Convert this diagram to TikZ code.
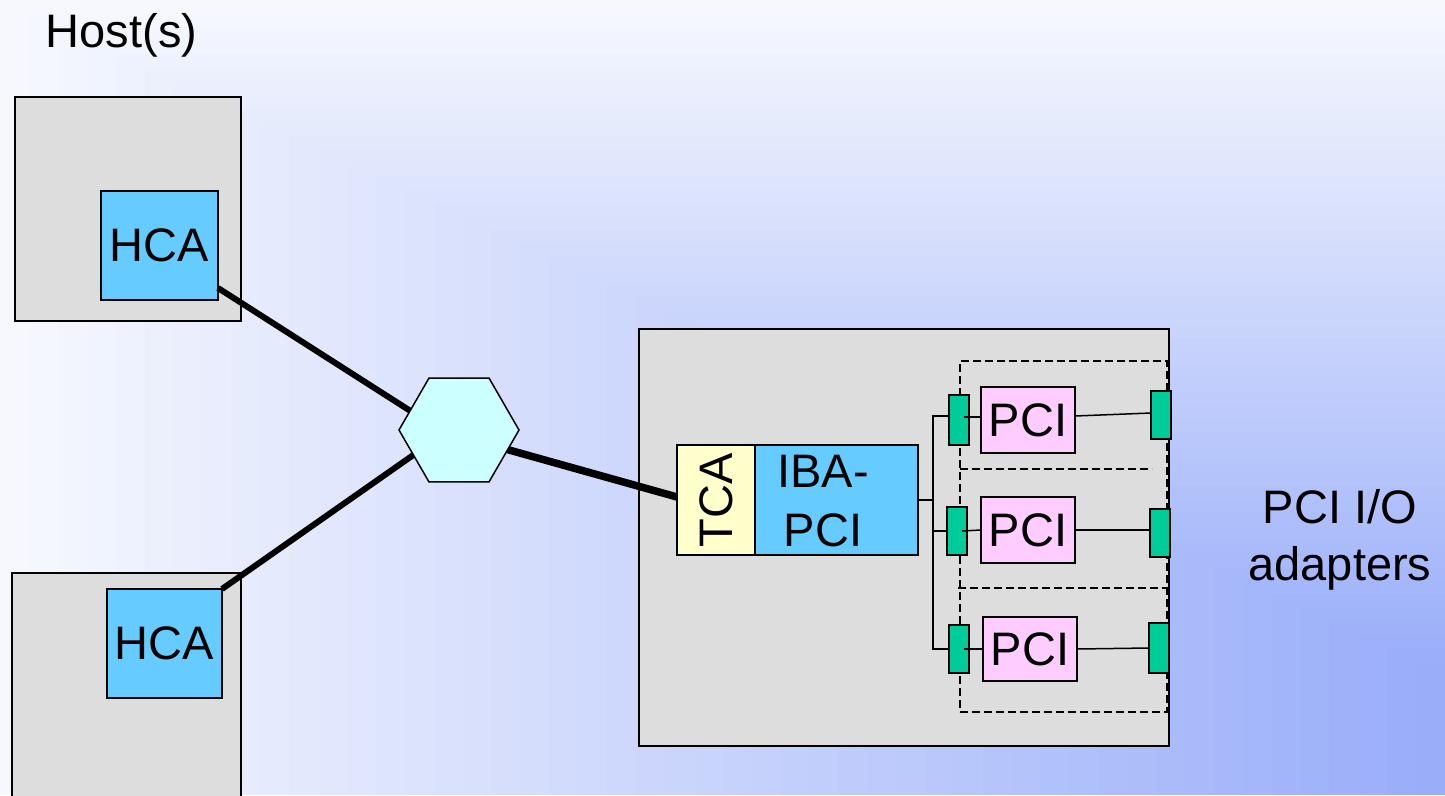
\documentclass[tikz,border=0pt]{standalone}
\usepackage{fontspec}
\setmainfont{Liberation Sans}
\usetikzlibrary{shapes.geometric,calc}
\definecolor{bgLight}{HTML}{F6F8FE}
\definecolor{bgDark}{HTML}{97ACF9}
\definecolor{hostgray}{HTML}{DDDDDD}
\definecolor{hcablue}{HTML}{66CCFF}
\definecolor{hexcyan}{HTML}{CCFFFF}
\definecolor{tcayellow}{HTML}{FFFFCC}
\definecolor{pcipink}{HTML}{FFCCFF}
\definecolor{portgreen}{HTML}{00CC99}
\begin{document}
\begin{tikzpicture}[x=1pt,y=-1pt,
  box/.style={draw=black, line width=1.5pt, inner sep=0pt, outer sep=0pt},
  bigfont/.style={font=\fontsize{47}{59}\selectfont},
  host/.style={box, fill=hostgray},
  hca/.style={box, fill=hcablue, bigfont},
  pci/.style={box, fill=pcipink, bigfont, minimum width=94pt, minimum height=66pt},
  port/.style={box, fill=portgreen, minimum width=20pt, minimum height=48pt},
  link/.style={line width=6pt},
  wire/.style={line width=1.5pt},
  slotline/.style={line width=1.5pt, dash pattern=on 8pt off 4pt}]
\useasboundingbox (0,0) rectangle (1445,795);
% background gradient (from bottom-right corner)
\foreach \i in {0,...,49}{
  \pgfmathtruncatemacro\p{100-2*\i}
  \pgfmathsetmacro\fx{28.9*\i}
  \pgfmathsetmacro\fy{13.5*\i}
  \fill[bgLight!\p!bgDark] (\fx,\fy) rectangle (1445,795);
}
% title
\node[bigfont, inner sep=0pt] (hosts) at (121.5,35.8) {Host(s)};
% hosts
\node[host, minimum width=226pt, minimum height=224pt] (host1) at (128,209) {};
\node[hca, minimum width=117pt, minimum height=109pt] (hca1) at (159.5,245.5) {HCA};
\node[host, minimum width=229pt, minimum height=257pt] (host2) at (126.5,701.5) {};
\node[hca, minimum width=115pt, minimum height=109pt] (hca2) at (164.5,643.5) {HCA};
% module
\node[host, minimum width=530pt, minimum height=417pt] (module) at (904,537.5) {};
\node[box, fill=tcayellow, minimum width=78pt, minimum height=110pt] (tca) at (716,500) {};
\node[bigfont, rotate=90, inner sep=0pt] (tcatext) at (tca.center) {TCA};
\node[box, fill=hcablue, minimum width=163pt, minimum height=110pt] (iba) at (836.5,500) {};
\node[bigfont, align=center, inner sep=0pt] (ibatext) at (823,501) {IBA-\\PCI};
% switch
\coordinate (hexc) at (459,430);
\draw[link] ($(hca1.south east)+(0,-12)$) -- ($(hexc)+(0,12)$);
\draw[link] (hca2.north east) -- ($(hexc)+(0,-7)$);
\draw[line width=7.5pt] ($(hexc)+(0,6)$) -- ($(tca.west)+(0,-3)$);
\node[box, shape=regular polygon, regular polygon sides=6, minimum size=120pt, fill=hexcyan] (switch) at (hexc) {};
% slots
\node[box, slotline, minimum width=207pt, minimum height=351pt] (slots) at (1063.5,536.5) {};
\coordinate (div1l) at (960,469);
\coordinate (div1r) at (1152,469);
\coordinate (div2l) at (958,588);
\coordinate (div2r) at (1166,588);
\draw[slotline] (div1l) -- (div1r);
\draw[slotline] (div2l) -- (div2r);
% ports and PCI cards
\node[port, minimum height=50pt] (L1) at (959,420) {};
\node[port] (L2) at (957,531) {};
\node[port] (L3) at (959,649) {};
\node[port] (R1) at (1161,415) {};
\node[port] (R2) at (1160,533) {};
\node[port, minimum height=50pt] (R3) at (1159,648) {};
\node[pci] (P1) at (1028,420) {PCI};
\node[pci] (P2) at (1028,530) {PCI};
\node[pci, minimum height=64pt] (P3) at (1030,649) {PCI};
% bus wiring
\coordinate (bus) at (933,530);
\draw[wire] ($(L1.west)+(0,-4)$) -| (bus) |- (L3.west);
\draw[wire] (iba.east) -- (bus |- iba.east);
\draw[wire] (bus |- L2.west) -- (L2.west);
\draw[wire] ($(L1.center)+(5,-3)$) -- ($(P1.west)+(0,-3)$);
\draw[wire] ($(L2.center)+(5,0)$) -- (P2.west);
\draw[wire] ($(L3.center)+(5,0)$) -- (P3.west);
\draw[wire] ($(P1.east)+(0,-4)$) -- ($(R1.west)+(0,-2)$);
\draw[wire] (P2.east) -- (P2.east -| R2.west);
\draw[wire] (P3.east) -- (R3.west);
% label
\node[font=\fontsize{47}{57}\selectfont, align=center, inner sep=0pt] (adapters) at (1340,540) {PCI I/O\\adapters};
\end{tikzpicture}
\end{document}
